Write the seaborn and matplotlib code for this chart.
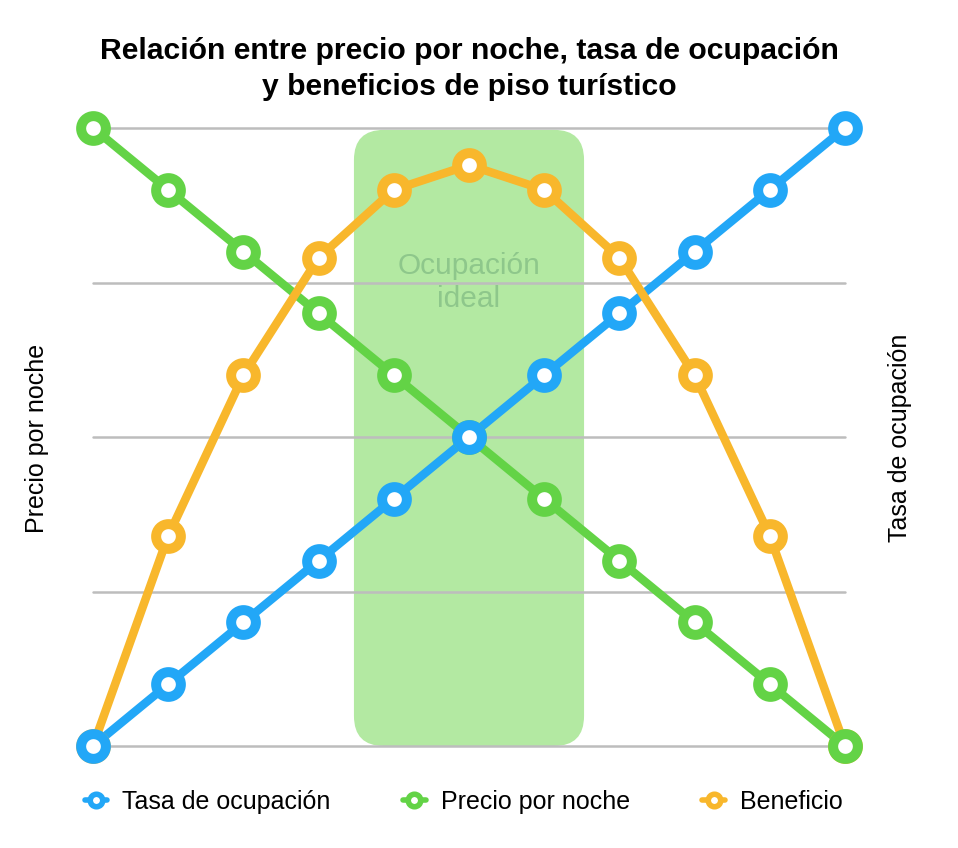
"""
Relación entre precio por noche, tasa de ocupación y beneficios.
"""
import pandas as pd
import matplotlib
matplotlib.use('Agg')
import matplotlib.pyplot as plt
from matplotlib.lines import Line2D
from matplotlib.patches import FancyBboxPatch
import seaborn as sns

# data
STEPS = [0, 1, 2, 3, 4, 5, 6, 7, 8, 9, 10]
OCUPACION = [0, 10, 20, 30, 40, 50, 60, 70, 80, 90, 100]
PRECIO = [100, 90, 80, 70, 60, 50, 40, 30, 20, 10, 0]
BENEFICIO = [0, 34, 60, 79, 90, 94, 90, 79, 60, 34, 0]
IDEAL_ZONE = (3.47, 6.53)
IDEAL_TOP = 99.7
GRID_LEVELS = [0, 25, 50, 75, 100]

BLUE = '#22a7f7'
GREEN = '#63d346'
ORANGE = '#f8b72c'

TITLE = 'Relación entre precio por noche, tasa de ocupación\ny beneficios de piso turístico'


def build_data():
    data = pd.DataFrame({
        'step': STEPS,
        'Tasa de ocupación': OCUPACION,
        'Precio por noche': PRECIO,
        'Beneficio': BENEFICIO,
    })
    return data


def plot(data):
    sns.set_theme(style='white')
    plt.rcParams['font.family'] = ['Liberation Sans', 'DejaVu Sans']
    plt.rcParams['text.color'] = 'black'

    fig = plt.figure(figsize=(9.58, 8.48), dpi=100)
    left, right, bottom, top = 93 / 958, 845 / 958, 1 - 746 / 848, 1 - 128 / 848
    ax = fig.add_axes([left, bottom, right - left, top - bottom])

    ax.set_xlim(STEPS[0], STEPS[-1])
    ax.set_ylim(GRID_LEVELS[0], GRID_LEVELS[-1])

    # ideal zone, rounded box corrected for the axes aspect
    px_x = (right - left) * 958 / (STEPS[-1] - STEPS[0])
    px_y = (top - bottom) * 848 / (GRID_LEVELS[-1] - GRID_LEVELS[0])
    radius = 30 / px_x
    box = FancyBboxPatch(
        (IDEAL_ZONE[0], 0), IDEAL_ZONE[1] - IDEAL_ZONE[0], IDEAL_TOP,
        boxstyle='round,pad=0,rounding_size={}'.format(radius),
        mutation_aspect=px_x / px_y,
        facecolor='#b3e9a2', edgecolor='none', zorder=0.2,
    )
    ax.add_patch(box)
    ax.text(sum(IDEAL_ZONE) / 2, 75.0, 'Ocupación\nideal', ha='center', va='center',
            fontsize=21.5, color='#8ec78b', linespacing=1.25, zorder=1.0)

    # lines first (green, blue, orange), then markers on top
    series = [('Precio por noche', GREEN, 2.0),
              ('Tasa de ocupación', BLUE, 2.1),
              ('Beneficio', ORANGE, 2.2)]
    for name, color, z in series:
        sns.lineplot(data=data, x='step', y=name, color=color, linewidth=6.1,
                     ax=ax, zorder=z, clip_on=False, solid_capstyle='round')

    for name, color, z in [('Beneficio', ORANGE, 3.0),
                           ('Precio por noche', GREEN, 3.1),
                           ('Tasa de ocupación', BLUE, 3.2)]:
        sns.scatterplot(data=data, x='step', y=name, s=17.8 ** 2, marker='o',
                        facecolor='white', edgecolor=color, linewidth=7.2,
                        ax=ax, zorder=z, clip_on=False)

    ax.set_yticks(GRID_LEVELS)
    ax.set_xticks([])
    ax.grid(axis='y', color='#bdbdbd', linewidth=1.8, zorder=0.5)
    for gl in ax.get_ygridlines():
        gl.set_clip_on(False)
    ax.set_axisbelow(True)
    ax.tick_params(left=False, labelleft=False, bottom=False, labelbottom=False)
    sns.despine(ax=ax, left=True, bottom=True)
    ax.set(xlabel='', ylabel='')

    ax.set_title(TITLE, fontsize=21.7, fontweight='bold', pad=24, linespacing=1.36,
                 color='black')

    fig.text(37 / 958, 1 - 438 / 848, 'Precio por noche', rotation=90,
             ha='center', va='center', fontsize=18)
    fig.text(900 / 958, 1 - 438 / 848, 'Tasa de ocupación', rotation=90,
             ha='center', va='center', fontsize=18)

    handles = [
        Line2D([], [], color=c, linewidth=4, marker='o', markersize=9,
               markerfacecolor='white', markeredgecolor=c, markeredgewidth=4)
        for c in (BLUE, GREEN, ORANGE)
    ]
    fig.legend(handles, ['Tasa de ocupación', 'Precio por noche', 'Beneficio'],
               loc='center', bbox_to_anchor=(0.484, 1 - 802 / 848), ncol=3,
               frameon=False, fontsize=18, handlelength=0.9, handletextpad=0.6,
               columnspacing=2.9)

    plt.savefig('out.png', dpi=100)


if __name__ == '__main__':

    data = build_data()

    plot(data)
